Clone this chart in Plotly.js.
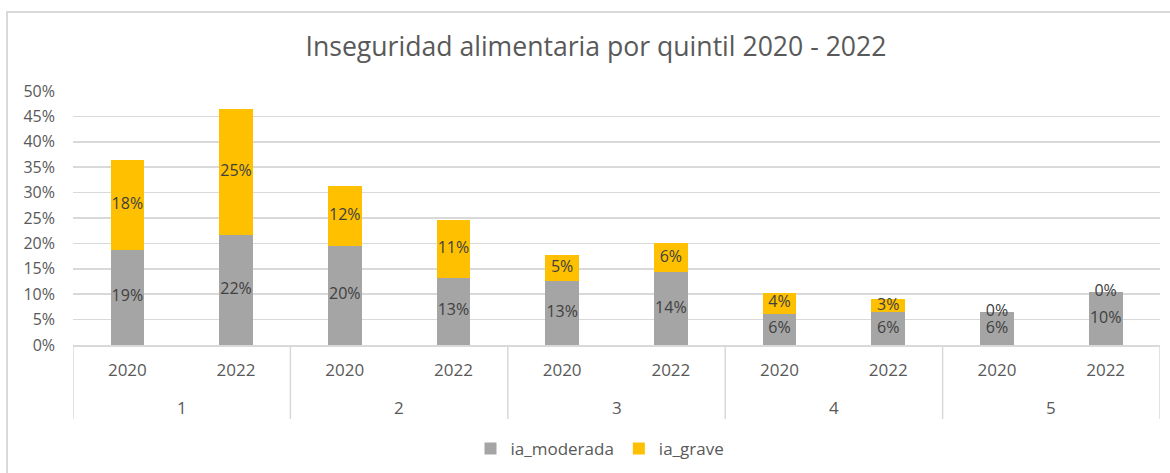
<!DOCTYPE html>
<html>
<head>
<meta charset="utf-8">
<script src="https://cdn.plot.ly/plotly-3.0.1.min.js"></script>
<style>
  html, body { margin: 0; padding: 0; overflow: hidden; background: #fff; }
  #frame { position: absolute; left: 6px; top: 11px; width: 1200px; height: 500px;
           border: 2px solid #d9d9d9; pointer-events: none; z-index: 5; }
  #chart { position: absolute; left: 0; top: 0; width: 1170px; height: 473px; }
</style>
</head>
<body>
<div id="chart"></div>
<div id="frame"></div>
<script>
// Data (percent)
const quintiles = ['1', '1', '2', '2', '3', '3', '4', '4', '5', '5'];
const years     = ['2020', '2022', '2020', '2022', '2020', '2022', '2020', '2022', '2020', '2022'];
const iaModerada = [18.8, 21.6, 19.5, 13.2, 12.6, 14.3, 6.2, 6.4, 6.4, 10.4];
const iaGrave    = [17.6, 24.8, 11.8, 11.4, 5.1, 5.8, 4.0, 2.6, 0.0, 0.0];
const yTicks = [0, 5, 10, 15, 20, 25, 30, 35, 40, 45, 50];

const fontFam = 'Open Sans, Noto Sans, sans-serif';
const cats = quintiles.map((q, i) => q + ' · ' + years[i]);  // unique category keys

const barModerada = {
  type: 'bar', name: 'ia_moderada', x: cats, y: iaModerada,
  marker: { color: '#a5a5a5' }, hoverinfo: 'skip'
};
const barGrave = {
  type: 'bar', name: 'ia_grave', x: cats, y: iaGrave,
  marker: { color: '#ffc000' }, hoverinfo: 'skip'
};

// Data labels centred in each segment (Excel style)
const lblX = cats.concat(cats);
const lblY = iaModerada.map(v => v / 2).concat(iaModerada.map((v, i) => v + iaGrave[i] / 2));
const lblT = iaModerada.map(v => Math.round(v) + '%').concat(iaGrave.map(v => Math.round(v) + '%'));
const labels = {
  type: 'scatter', mode: 'text', x: lblX, y: lblY, text: lblT,
  textposition: 'middle center',
  textfont: { family: fontFam, size: 16, color: '#404040' },
  showlegend: false, hoverinfo: 'skip', cliponaxis: false
};

// Group (quintile) labels and dividers of the two-level category axis
const plotL = 73, plotR = 1160;
const plotH = 473 - 91 - 128;
const groupLabelY = (345 - 407) / plotH;
const dividerY = (345 - 419) / plotH;
const groups = [...new Set(quintiles)];
const annotations = groups.map(g => {
  const idx = quintiles.map((q, i) => q === g ? i : -1).filter(i => i >= 0);
  const mid = idx.reduce((a, b) => a + b, 0) / idx.length;
  return {
    x: mid, y: groupLabelY, xref: 'x', yref: 'paper', text: g, showarrow: false,
    xanchor: 'center', yanchor: 'middle',
    font: { family: fontFam, size: 17, color: '#595959' }
  };
});
const bounds = [-0.5];
groups.forEach(g => { bounds.push(quintiles.lastIndexOf(g) + 0.5); });
const shapes = bounds.map(b => ({
  type: 'line', xref: 'x', yref: 'paper', x0: b, x1: b, y0: 0, y1: dividerY,
  line: { color: '#d9d9d9', width: 1.5 }
}));

const layout = {
  width: 1170, height: 473,
  margin: { l: plotL, r: 1170 - plotR, t: 91, b: 128, autoexpand: false },
  paper_bgcolor: 'rgba(0,0,0,0)', plot_bgcolor: '#ffffff',
  barmode: 'stack', bargap: 0.69,
  title: {
    text: 'Inseguridad alimentaria por quintil 2020 - 2022',
    font: { family: fontFam, size: 26.6, color: '#595959' },
    xref: 'container', x: 596 / 1170, xanchor: 'center', y: 1 - 47 / 473, yanchor: 'middle'
  },
  xaxis: {
    type: 'category', automargin: false, range: [-0.5, cats.length - 0.5],
    tickvals: cats, ticktext: years, ticklabelstandoff: 9, tickangle: 0,
    showline: true, linecolor: '#d9d9d9', linewidth: 1.5,
    tickfont: { family: fontFam, size: 17, color: '#595959' },
    ticks: '', showgrid: false, zeroline: false
  },
  yaxis: {
    automargin: false,
    range: [0, 50], tickvals: yTicks, ticktext: yTicks.map(v => v + '%'),
    ticklabelstandoff: 17,
    showgrid: true, gridcolor: '#d9d9d9', gridwidth: 1.5,
    zeroline: false, showline: false, ticks: '',
    tickfont: { family: fontFam, size: 16, color: '#595959' }
  },
  annotations: annotations,
  shapes: shapes,
  showlegend: true,
  legend: {
    orientation: 'h', x: (600 - plotL) / (plotR - plotL), xanchor: 'center',
    y: (345 - 449) / plotH, yanchor: 'middle',
    font: { family: fontFam, size: 17, color: '#595959' },
    traceorder: 'normal'
  }
};

Plotly.newPlot('chart', [barModerada, barGrave, labels], layout, { staticPlot: true, displayModeBar: false });
</script>
</body>
</html>
